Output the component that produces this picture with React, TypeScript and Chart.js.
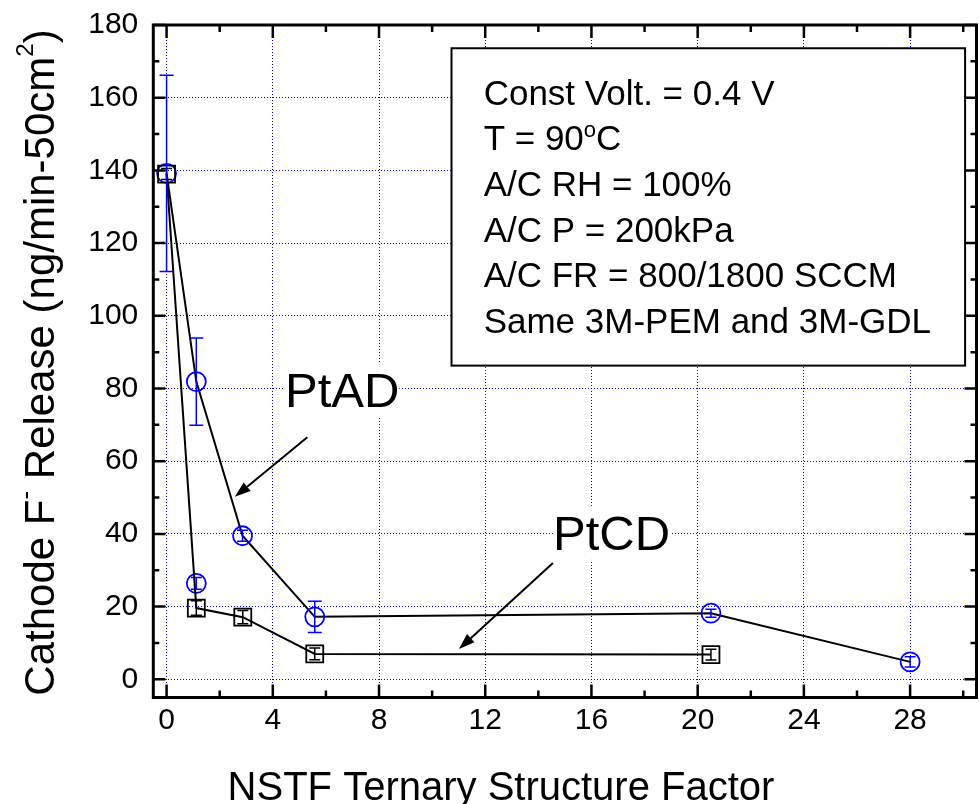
import React, { useEffect, useRef } from "react";
import { Chart, registerables } from "chart.js";

Chart.register(...registerables);

const FONT = "'Liberation Sans', Arial, Helvetica, sans-serif";

// ---- Data ----
// PtAD: blue circles
const ptadX = [0, 1.12, 2.86, 5.58, 20.5, 28.0];
const ptadY = [139.2, 81.9, 39.5, 17.2, 18.2, 4.8];
const ptadErr = [27, 12, 1.5, 4.3, 1.1, 1.4];
// PtCD: black squares
const ptcdX = [0, 1.12, 2.87, 5.58, 20.5];
const ptcdY = [139.0, 19.6, 17.1, 7.0, 6.8];
const ptcdErr = [1.5, 2.0, 1.8, 1.6, 1.5];
// isolated blue circle
const extraX = [1.12];
const extraY = [26.4];
const extraErr = [1.6];

// ---- Ticks ----
const xMajorTicks = [0, 4, 8, 12, 16, 20, 24, 28];
const xMinorTicks = [2, 6, 10, 14, 18, 22, 26, 30];
const yMajorTicks = [0, 20, 40, 60, 80, 100, 120, 140, 160, 180];
const yMinorTicks = [10, 30, 50, 70, 90, 110, 130, 150, 170];

// ---- Text ----
const xTitle = "NSTF Ternary Structure Factor";
const boxLines = [
  "Const Volt. = 0.4 V",
  "T = 90|o|C",
  "A/C RH = 100%",
  "A/C P = 200kPa",
  "A/C FR = 800/1800 SCCM",
  "Same 3M-PEM and 3M-GDL",
];

type Part = { t: string; size: number; dy?: number };

function richWidth(ctx: CanvasRenderingContext2D, parts: Part[]) {
  let w = 0;
  for (const p of parts) {
    ctx.font = `${p.size}px ${FONT}`;
    w += ctx.measureText(p.t).width;
  }
  return w;
}

function drawRich(ctx: CanvasRenderingContext2D, parts: Part[], x: number, y: number) {
  let cx = x;
  for (const p of parts) {
    ctx.font = `${p.size}px ${FONT}`;
    ctx.fillText(p.t, cx, y + (p.dy || 0));
    cx += ctx.measureText(p.t).width;
  }
}

function drawArrow(ctx: CanvasRenderingContext2D, x1: number, y1: number, x2: number, y2: number) {
  const ang = Math.atan2(y2 - y1, x2 - x1);
  const len = 16;
  const hw = 5.5;
  const bx = x2 - len * Math.cos(ang);
  const by = y2 - len * Math.sin(ang);
  ctx.save();
  ctx.strokeStyle = "#000";
  ctx.fillStyle = "#000";
  ctx.lineWidth = 2;
  ctx.beginPath();
  ctx.moveTo(x1, y1);
  ctx.lineTo(bx, by);
  ctx.stroke();
  ctx.beginPath();
  ctx.moveTo(x2, y2);
  ctx.lineTo(bx + hw * Math.sin(ang), by - hw * Math.cos(ang));
  ctx.lineTo(bx - hw * Math.sin(ang), by + hw * Math.cos(ang));
  ctx.closePath();
  ctx.fill();
  ctx.restore();
}

function labelWithBg(ctx: CanvasRenderingContext2D, text: string, x: number, y: number, size: number) {
  ctx.save();
  ctx.font = `${size}px ${FONT}`;
  ctx.textBaseline = "alphabetic";
  ctx.textAlign = "left";
  const m = ctx.measureText(text);
  const asc = m.fontBoundingBoxAscent ?? size * 0.905;
  const desc = m.fontBoundingBoxDescent ?? size * 0.212;
  ctx.fillStyle = "#fff";
  ctx.fillRect(x, y - asc, m.width, asc + desc);
  ctx.fillStyle = "#000";
  ctx.fillText(text, x, y);
  ctx.restore();
}

const errorSets = [
  { err: ptcdErr, color: "#000000" },
  { err: ptadErr, color: "#0000ff" },
  { err: extraErr, color: "#0000ff" },
];

const decor = {
  id: "decor",
  afterDatasetsDraw(chart: any) {
    const ctx: CanvasRenderingContext2D = chart.ctx;
    const xs = chart.scales.x;
    const ys = chart.scales.y;
    chart.data.datasets.forEach((ds: any, di: number) => {
      const set = errorSets[di];
      if (!set) return;
      ctx.save();
      ctx.strokeStyle = set.color;
      ctx.lineWidth = 1.5;
      ds.data.forEach((p: any, i: number) => {
        const e = set.err[i];
        const px = xs.getPixelForValue(p.x);
        const pt = ys.getPixelForValue(p.y + e);
        const pb = ys.getPixelForValue(p.y - e);
        const cap = e > 3 ? 7 : 5.5;
        ctx.beginPath();
        ctx.moveTo(px, pt);
        ctx.lineTo(px, pb);
        ctx.moveTo(px - cap, pt);
        ctx.lineTo(px + cap, pt);
        ctx.moveTo(px - cap, pb);
        ctx.lineTo(px + cap, pb);
        ctx.stroke();
      });
      ctx.restore();
    });
  },
  afterDraw(chart: any) {
    const ctx: CanvasRenderingContext2D = chart.ctx;
    const xs = chart.scales.x;
    const ys = chart.scales.y;
    const a = chart.chartArea;

    // annotation box
    const bx1 = xs.getPixelForValue(10.73);
    const bx2 = xs.getPixelForValue(30.07);
    const by1 = ys.getPixelForValue(173.6);
    const by2 = ys.getPixelForValue(86.3);
    ctx.save();
    ctx.fillStyle = "#fff";
    ctx.fillRect(bx1, by1, bx2 - bx1, by2 - by1);
    ctx.strokeStyle = "#000";
    ctx.lineWidth = 2;
    ctx.strokeRect(bx1, by1, bx2 - bx1, by2 - by1);
    ctx.fillStyle = "#000";
    ctx.textBaseline = "alphabetic";
    ctx.textAlign = "left";
    const tx = xs.getPixelForValue(11.94);
    boxLines.forEach((line, i) => {
      const yb = by1 + 56.3 + i * 45.7;
      const segs = line.split("|");
      const parts: Part[] =
        segs.length === 3
          ? [
              { t: segs[0], size: 35 },
              { t: segs[1], size: 22, dy: -13 },
              { t: segs[2], size: 35 },
            ]
          : [{ t: line, size: 35 }];
      drawRich(ctx, parts, tx, yb);
    });
    ctx.restore();

    // series labels and arrows
    labelWithBg(ctx, "PtAD", xs.getPixelForValue(4.46), ys.getPixelForValue(75.0), 49);
    labelWithBg(ctx, "PtCD", xs.getPixelForValue(14.55), ys.getPixelForValue(35.6), 49);
    drawArrow(ctx, xs.getPixelForValue(5.3), ys.getPixelForValue(66.6), xs.getPixelForValue(2.57), ys.getPixelForValue(50.2));
    drawArrow(ctx, xs.getPixelForValue(14.55), ys.getPixelForValue(32.0), xs.getPixelForValue(11.01), ys.getPixelForValue(8.35));

    // frame
    ctx.save();
    ctx.strokeStyle = "#000";
    ctx.lineWidth = 3;
    ctx.strokeRect(a.left, a.top, a.right - a.left, a.bottom - a.top);
    // inward ticks
    ctx.lineWidth = 2.5;
    ctx.beginPath();
    const xt = (vals: number[], len: number) => {
      vals.forEach((v) => {
        const px = xs.getPixelForValue(v);
        ctx.moveTo(px, a.bottom);
        ctx.lineTo(px, a.bottom - len);
        ctx.moveTo(px, a.top);
        ctx.lineTo(px, a.top + len);
      });
    };
    const yt = (vals: number[], len: number) => {
      vals.forEach((v) => {
        const py = ys.getPixelForValue(v);
        ctx.moveTo(a.left, py);
        ctx.lineTo(a.left + len, py);
        ctx.moveTo(a.right, py);
        ctx.lineTo(a.right - len, py);
      });
    };
    xt(xMajorTicks, 13);
    xt(xMinorTicks, 7);
    yt(yMajorTicks, 12);
    yt(yMinorTicks, 6);
    ctx.stroke();
    ctx.restore();

    // axis titles
    ctx.save();
    ctx.fillStyle = "#000";
    ctx.textBaseline = "alphabetic";
    ctx.textAlign = "left";
    ctx.font = `40px ${FONT}`;
    const xw = ctx.measureText(xTitle).width;
    ctx.fillText(xTitle, 501 - xw / 2, 800);
    const yParts: Part[] = [
      { t: "Cathode F", size: 42 },
      { t: "-", size: 26, dy: -20 },
      { t: " Release (ng/min-50cm", size: 42 },
      { t: "2", size: 24, dy: -21 },
      { t: ")", size: 42 },
    ];
    const yw = richWidth(ctx, yParts);
    ctx.translate(54, 362.5);
    ctx.rotate(-Math.PI / 2);
    drawRich(ctx, yParts, -yw / 2, 0);
    ctx.restore();
  },
};

const zeroPad = (s: any) => {
  s.paddingLeft = 0;
  s.paddingRight = 0;
  s.paddingTop = 0;
  s.paddingBottom = 0;
};

export default function App() {
  const ref = useRef<HTMLCanvasElement | null>(null);
  useEffect(() => {
    if (!ref.current) return;
    const tickFont = { family: FONT, size: 30 };
    const chart = new Chart(ref.current, {
      type: "scatter",
      data: {
        datasets: [
          {
            label: "PtCD",
            data: ptcdX.map((x, i) => ({ x, y: ptcdY[i] })),
            showLine: true,
            borderColor: "#000",
            borderWidth: 2,
            pointStyle: "rect",
            pointRadius: 12,
            pointBorderColor: "#000",
            pointBackgroundColor: "rgba(0,0,0,0)",
            pointBorderWidth: 1.8,
          },
          {
            label: "PtAD",
            data: ptadX.map((x, i) => ({ x, y: ptadY[i] })),
            showLine: true,
            borderColor: "#000",
            borderWidth: 2,
            pointStyle: "circle",
            pointRadius: 9.5,
            pointBorderColor: "#0000ff",
            pointBackgroundColor: "rgba(0,0,0,0)",
            pointBorderWidth: 1.8,
          },
          {
            label: "PtCD (circle)",
            data: extraX.map((x, i) => ({ x, y: extraY[i] })),
            showLine: false,
            pointStyle: "circle",
            pointRadius: 9.5,
            pointBorderColor: "#0000ff",
            pointBackgroundColor: "rgba(0,0,0,0)",
            pointBorderWidth: 1.8,
          },
        ],
      },
      options: {
        animation: false,
        responsive: false,
        events: [],
        layout: { autoPadding: false, padding: { top: 25, right: 2.5, left: 0, bottom: 0 } },
        plugins: { legend: { display: false }, tooltip: { enabled: false } },
        scales: {
          x: {
            type: "linear",
            min: -0.5,
            max: 30.5,
            afterBuildTicks: (s: any) => {
              s.ticks = xMajorTicks.map((value) => ({ value }));
            },
            afterFit: (s: any) => {
              s.height = 106.5;
              zeroPad(s);
            },
            grid: { color: "#0000ff", lineWidth: 1, drawTicks: false },
            border: { display: false, dash: [1, 2] },
            ticks: { font: tickFont, color: "#000", padding: 5, maxRotation: 0, autoSkip: false },
          },
          y: {
            type: "linear",
            min: -5,
            max: 180,
            afterBuildTicks: (s: any) => {
              s.ticks = yMajorTicks.map((value) => ({ value }));
            },
            afterFit: (s: any) => {
              s.width = 153.3;
              zeroPad(s);
            },
            grid: { color: "#0000ff", lineWidth: 1, drawTicks: false },
            border: { display: false, dash: [1, 2] },
            ticks: { font: tickFont, color: "#000", padding: 15, autoSkip: false },
          },
        },
      },
      plugins: [decor],
    } as any);
    return () => chart.destroy();
  }, []);
  return (
    <div style={{ position: "absolute", left: 0, top: 0, width: 979, height: 804 }}>
      <canvas ref={ref} width={979} height={804} style={{ display: "block" }} />
    </div>
  );
}
